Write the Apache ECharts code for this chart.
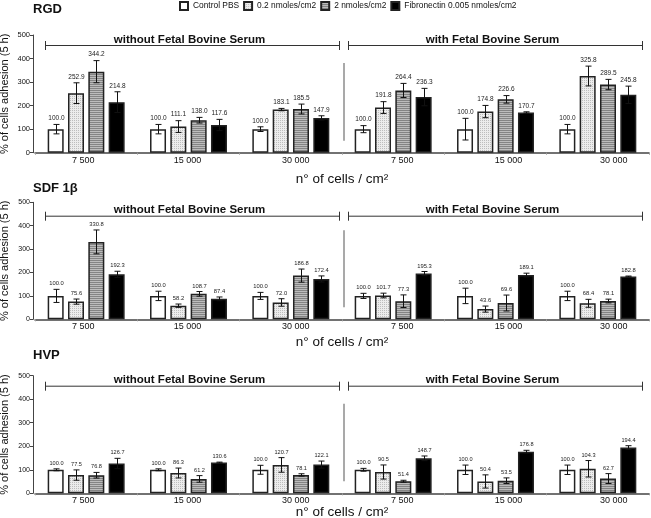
<!DOCTYPE html>
<html><head><meta charset="utf-8">
<script src="https://cdn.jsdelivr.net/npm/echarts@6.0.0/dist/echarts.min.js"></script>
<style>html,body{margin:0;padding:0;background:#fff}#c{width:651px;height:518px}</style>
</head><body><div id="c"></div>
<script>
// ---------------- DATA ----------------
const categories = ['7 500', '15 000', '30 000', '7 500', '15 000', '30 000'];
const seriesNames = ['Control PBS', '0.2 nmoles/cm2', '2 nmoles/cm2', 'Fibronectin 0.005 nmoles/cm2'];
const panelTitles = ['RGD', 'SDF 1β', 'HVP'];
const groupLabels = ['without Fetal Bovine Serum', 'with Fetal Bovine Serum'];
const yAxisName = '% of cells adhesion (5 h)';
const xAxisName = 'n° of cells / cm²';

// RGD
const rgdControl = [100.0, 100.0, 100.0, 100.0, 100.0, 100.0];
const rgdLow     = [252.9, 111.1, 183.1, 191.8, 174.8, 325.8];
const rgdHigh    = [344.2, 138.0, 185.5, 264.4, 226.6, 289.5];
const rgdFn      = [214.8, 117.6, 147.9, 236.3, 170.7, 245.8];
const rgdControlErr = [20, 20, 10, 15, 46, 20];
const rgdLowErr     = [44, 25, 5, 25, 26, 42];
const rgdHighErr    = [47, 12, 21, 30, 16, 22];
const rgdFnErr      = [44, 24, 9, 37, 3, 37];

// SDF 1beta
const sdfControl = [100.0, 100.0, 100.0, 100.0, 100.0, 100.0];
const sdfLow     = [75.6, 58.2, 72.0, 101.7, 43.6, 68.4];
const sdfHigh    = [330.8, 108.7, 186.8, 77.3, 69.6, 78.1];
const sdfFn      = [192.3, 87.4, 172.4, 195.3, 189.1, 182.8];
const sdfControlErr = [28, 20, 15, 11, 33, 20];
const sdfLowErr     = [11, 7, 16, 10, 13, 17];
const sdfHighErr    = [51, 10, 28, 27, 34, 8];
const sdfFnErr      = [13, 8, 13, 9, 8, 2];

// HVP
const hvpControl = [100.0, 100.0, 100.0, 100.0, 100.0, 100.0];
const hvpLow     = [77.5, 86.3, 120.7, 90.5, 50.4, 104.3];
const hvpHigh    = [76.8, 61.2, 78.1, 51.4, 53.5, 62.7];
const hvpFn      = [126.7, 130.6, 122.1, 148.7, 176.8, 194.4];
const hvpControlErr = [4, 4, 19, 6, 20, 20];
const hvpLowErr     = [22, 21, 31, 30, 28, 35];
const hvpHighErr    = [12, 14, 5, 4, 12, 21];
const hvpFnErr      = [22, 2, 15, 10, 6, 8];

const yTickMin = 0, yTickMax = 500, yTickStep = 100;

const panels = [
  {values: [rgdControl, rgdLow, rgdHigh, rgdFn], errs: [rgdControlErr, rgdLowErr, rgdHighErr, rgdFnErr]},
  {values: [sdfControl, sdfLow, sdfHigh, sdfFn], errs: [sdfControlErr, sdfLowErr, sdfHighErr, sdfFnErr]},
  {values: [hvpControl, hvpLow, hvpHigh, hvpFn], errs: [hvpControlErr, hvpLowErr, hvpHighErr, hvpFnErr]}
];

// ---------------- LAYOUT / STYLE ----------------
const FONT = 'Liberation Sans, Arial, sans-serif';
const GRID_LEFT = 35, GRID_W = 614;
const gridTops = [35, 202.3, 375.7];
const gridHeights = [117.7, 117, 117.6];
const xNameGaps = [19.5, 15.5, 12];
const labelFont = [6.5, 5.8, 5.6];
const yLabelFont = [7.5, 7, 7];
const titleTops = [3, 182, 349];
const bracketOff = [10, 13.4, 10];
const labelShift = [-3, -1, 5, 9, 13, 16];   // horizontal nudge of category labels (px)
const BAR_W = 16, BAR_GAP = 0.27;
const BAR_STEP = BAR_W * (1 + BAR_GAP);

function makePattern(w, h, draw) {
  const c = document.createElement('canvas');
  c.width = w; c.height = h;
  draw(c.getContext('2d'));
  return {image: c, repeat: 'repeat'};
}
const dotPat = makePattern(2, 2, g => {
  g.fillStyle = '#ececec'; g.fillRect(0, 0, 2, 2);
  g.fillStyle = '#bdbdbd'; g.fillRect(0, 0, 1, 1);
});
const stripePat = makePattern(1, 2, g => {
  g.fillStyle = '#848484'; g.fillRect(0, 0, 1, 1);
  g.fillStyle = '#bcbcbc'; g.fillRect(0, 1, 1, 1);
});
const fills = ['#ffffff', dotPat, stripePat, '#000000'];

const rich = {};
labelShift.forEach((d, idx) => {
  rich['s' + idx] = {fontSize: 9, color: '#111', fontFamily: FONT,
    padding: d >= 0 ? [0, 0, 0, 2 * d] : [0, -2 * d, 0, 0]};
});

const chart = echarts.init(document.getElementById('c'), null, {renderer: 'canvas'});

const grid = [], xAxis = [], yAxis = [], series = [], title = [], graphic = [];

panels.forEach((p, i) => {
  grid.push({left: GRID_LEFT, width: GRID_W, top: gridTops[i], height: gridHeights[i], outerBoundsMode: 'none', containLabel: false});
  xAxis.push({
    gridIndex: i, type: 'category', data: categories,
    axisLine: {show: true, lineStyle: {color: '#444', width: 1.5}},
    axisTick: {show: true, length: 2, lineStyle: {color: '#999'}},
    axisLabel: {fontSize: 9, color: '#111', margin: 3, fontFamily: FONT, interval: 0,
      formatter: (v, idx) => '{s' + idx + '|' + v + '}', rich: rich},
    splitLine: {show: false},
    name: xAxisName, nameLocation: 'middle', nameGap: xNameGaps[i], nameMoveOverlap: false,
    nameTextStyle: {fontSize: 13.5, color: '#111', fontFamily: FONT}
  });
  yAxis.push({
    gridIndex: i, type: 'value', min: yTickMin, max: yTickMax, interval: yTickStep, offset: 2,
    axisLine: {show: true, lineStyle: {color: '#444', width: 1}},
    axisTick: {show: true, length: 3, lineStyle: {color: '#444'}},
    axisLabel: {fontSize: yLabelFont[i], color: '#111', margin: 3, fontFamily: FONT},
    splitLine: {show: false},
    name: yAxisName, nameLocation: 'middle', nameRotate: 90, nameGap: 23, nameMoveOverlap: false,
    nameTextStyle: {fontSize: 11, color: '#111', fontFamily: FONT}
  });
  p.values.forEach((vals, k) => {
    series.push({
      type: 'bar', name: seriesNames[k], xAxisIndex: i, yAxisIndex: i,
      data: vals, barWidth: BAR_W, barGap: (BAR_GAP * 100) + '%',
      itemStyle: {color: fills[k], borderColor: '#222', borderWidth: 1.5},
      emphasis: {disabled: true}, animation: false
    });
  });
  const errData = [];
  p.values.forEach((vals, k) => {
    vals.forEach((v, c) => errData.push([c, v, p.errs[k][c], k]));
  });
  series.push({
    type: 'custom', xAxisIndex: i, yAxisIndex: i, data: errData, z: 10, animation: false,
    renderItem: (params, api) => {
      const cat = api.value(0), val = api.value(1), err = api.value(2), k = api.value(3);
      const top = api.coord([cat, val + err]);
      const bot = api.coord([cat, Math.max(val - err, 0)]);
      const x = Math.round(top[0] + (k - 1.5) * BAR_STEP) + 0.5;
      const cap = 3;
      const st = {stroke: '#111', lineWidth: 1};
      return {type: 'group', children: [
        {type: 'line', shape: {x1: x, y1: top[1], x2: x, y2: bot[1]}, style: st},
        {type: 'line', shape: {x1: x - cap, y1: top[1], x2: x + cap, y2: top[1]}, style: st},
        {type: 'line', shape: {x1: x - cap, y1: bot[1], x2: x + cap, y2: bot[1]}, style: st},
        {type: 'text', style: {text: val.toFixed(1), x: x, y: top[1] - 2.5, align: 'center', verticalAlign: 'bottom',
          fontSize: labelFont[i], fontFamily: FONT, fill: '#222'}}
      ]};
    }
  });
  title.push({text: panelTitles[i], left: 33, top: titleTops[i], padding: 0,
    textStyle: {fontSize: 13, fontWeight: 'bold', color: '#111', fontFamily: 'Liberation Sans Narrow, Liberation Sans, Arial'}});

  // brackets and divider (annotations)
  const ly = gridTops[i] + bracketOff[i];
  const brackets = [[45, 340], [348, 643]];
  const ln = {stroke: '#333', lineWidth: 1};
  brackets.forEach((b, j) => {
    graphic.push({type: 'line', shape: {x1: b[0], y1: ly + 0.5, x2: b[1], y2: ly + 0.5}, style: ln, silent: true});
    graphic.push({type: 'line', shape: {x1: b[0] + 0.5, y1: ly - 4, x2: b[0] + 0.5, y2: ly + 5}, style: ln, silent: true});
    graphic.push({type: 'line', shape: {x1: b[1] - 0.5, y1: ly - 4, x2: b[1] - 0.5, y2: ly + 5}, style: ln, silent: true});
    graphic.push({type: 'text', x: (b[0] + b[1]) / 2 - 3, y: ly + 0.5, silent: true,
      style: {text: groupLabels[j], align: 'center', verticalAlign: 'bottom', fontSize: 11.5, fontWeight: 'bold',
        fontFamily: FONT, fill: '#111'}});
  });
  const gb = gridTops[i] + gridHeights[i];
  graphic.push({type: 'line', shape: {x1: 344, y1: gridTops[i] + 28, x2: 344, y2: gb - 12},
    style: {stroke: '#8c8c8c', lineWidth: 1.5}, silent: true});
});

chart.setOption({
  animation: false,
  backgroundColor: '#fff',
  textStyle: {fontFamily: FONT},
  title: title,
  legend: {
    data: seriesNames, top: 1, left: 179, padding: 0, itemWidth: 8, itemHeight: 8, itemGap: 4,
    icon: 'rect', selectedMode: false,
    textStyle: {fontSize: 8.4, color: '#111', fontFamily: FONT}
  },
  grid: grid, xAxis: xAxis, yAxis: yAxis, series: series, graphic: graphic
});
</script></body></html>
